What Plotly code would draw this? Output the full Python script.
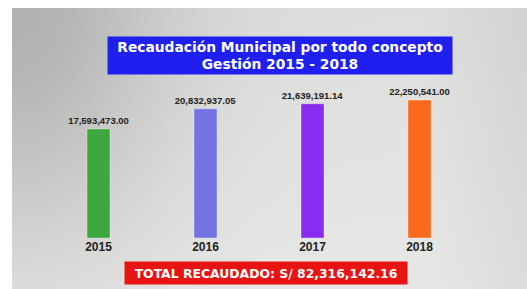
import base64, math, struct, zlib
import plotly.graph_objects as go

# ---- data ----
years = ["2015", "2016", "2017", "2018"]
amounts = [17593473.00, 20832937.05, 21639191.14, 22250541.00]
bar_colors = ["#3ca83f", "#7374e2", "#8a2cf0", "#fa6a1c"]
title_text = "Recaudación Municipal por todo concepto<br>Gestión 2015 - 2018"
total_text = "TOTAL RECAUDADO: S/ 82,316,142.16"

W, H = 527, 289
L, R, T, B = 45, 54, 20, 51
PW, PH = W - L - R, H - T - B


def px_x(px):
    return (px - L) / PW


def px_y(py):
    return (H - B - py) / PH


# ---- background gradient image (PNG data URI) ----
def make_png(w, h):
    rows = []
    for j in range(h):
        v = j / (h - 1)
        row = bytearray([0])
        for i in range(w):
            u = i / (w - 1)
            g = 222 + 10 * v - 44 * math.exp(-((u / 0.3) ** 2 + (v / 0.85) ** 2))
            g -= 12 * max(0.0, (u - 0.8) / 0.2)
            g = int(max(0, min(255, g)))
            row += bytes([g, g, max(0, g - 2)])
        rows.append(bytes(row))
    raw = b"".join(rows)

    def chunk(tag, data):
        c = struct.pack(">I", len(data)) + tag + data
        return c + struct.pack(">I", zlib.crc32(tag + data) & 0xFFFFFFFF)

    png = b"\x89PNG\r\n\x1a\n"
    png += chunk(b"IHDR", struct.pack(">IIBBBBB", w, h, 8, 2, 0, 0, 0))
    png += chunk(b"IDAT", zlib.compress(raw, 9))
    png += chunk(b"IEND", b"")
    return "data:image/png;base64," + base64.b64encode(png).decode()


bg = make_png(80, 44)

fig = go.Figure()
fig.add_trace(go.Bar(
    x=years,
    y=amounts,
    marker=dict(color=bar_colors, line=dict(color="rgba(255,255,255,0.35)", width=1)),
    text=[f"{a:,.2f}" for a in amounts],
    textposition="outside",
    constraintext="none",
    textfont=dict(family="Liberation Sans", size=9.5, color="#222222", weight="bold"),
    cliponaxis=False,
    hoverinfo="skip",
))

fig.add_layout_image(dict(
    source=bg, xref="paper", yref="paper",
    x=px_x(12), y=px_y(8), sizex=px_x(W + 10) - px_x(12), sizey=px_y(8) - px_y(H + 10),
    sizing="stretch", layer="below", xanchor="left", yanchor="top",
))

# white outer frame strips (left and top)
fig.add_shape(type="rect", xref="paper", yref="paper", layer="above",
              x0=px_x(-5), x1=px_x(12), y0=px_y(H + 5), y1=px_y(-5),
              fillcolor="white", line=dict(width=0))
fig.add_shape(type="rect", xref="paper", yref="paper", layer="above",
              x0=px_x(-5), x1=px_x(W + 5), y0=px_y(8), y1=px_y(-5),
              fillcolor="white", line=dict(width=0))

fig.add_annotation(
    x=px_x(280), y=px_y(55.5), xref="paper", yref="paper",
    text="<b>" + title_text + "</b>", showarrow=False,
    font=dict(family="DejaVu Sans", size=13.8, color="white"),
    bgcolor="#1f1ff0", width=340, height=33, borderpad=2, align="center",
    xanchor="center", yanchor="middle",
)

fig.add_annotation(
    x=px_x(266), y=px_y(272.5), xref="paper", yref="paper",
    text="<b>" + total_text + "</b>", showarrow=False,
    font=dict(family="DejaVu Sans", size=12.4, color="white"),
    bgcolor="#e81414", width=278, height=18, borderpad=2, align="center",
    xanchor="center", yanchor="middle",
)

fig.update_layout(
    width=W, height=H,
    margin=dict(l=L, r=R, t=T, b=B),
    paper_bgcolor="#d4d4d4", plot_bgcolor="rgba(0,0,0,0)",
    bargap=0.785, showlegend=False,
    xaxis=dict(type="category", range=[-0.5, 3.5], showgrid=False, showline=False,
               zeroline=False, ticks="",
               tickfont=dict(family="Liberation Sans", size=12, color="#222222", weight="bold")),
    yaxis=dict(visible=False, range=[0, 35.15e6]),
)

fig.write_html(
    "out.html",
    config={"displayModeBar": False},
    post_script=("document.body.style.margin='0';document.body.style.overflow='hidden';"
                 "document.body.style.background='#d4d4d4';"),
)
